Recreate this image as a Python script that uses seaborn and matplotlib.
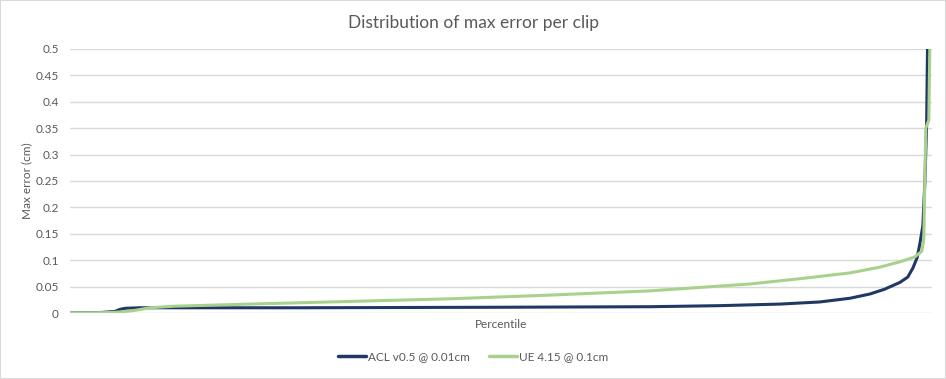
import pandas as pd
import matplotlib
matplotlib.use("Agg")
from matplotlib import pyplot as plt
import seaborn as sns

# percentile (0-100) vs max error (cm)
acl_pct = [0, 3.5, 5.2, 5.8, 6.4, 8.1, 26.7, 49.9, 67.3, 75.4, 82.4, 87.0, 90.5,
           92.8, 94.5, 96.3, 97.2, 97.8, 98.3, 98.6, 98.96, 99.2, 99.4, 99.5, 99.65]
acl_err = [0, 0.001, 0.003, 0.007, 0.009, 0.010, 0.010, 0.011, 0.012, 0.014, 0.017,
           0.021, 0.028, 0.036, 0.045, 0.058, 0.068, 0.085, 0.105, 0.13, 0.165,
           0.25, 0.36, 0.5, 0.6]

ue_pct = [0, 4.6, 5.8, 7.5, 9.3, 12.2, 20.9, 32.5, 44.1, 55.7, 67.3, 78.9, 84.7,
          90.5, 94.0, 96.3, 98.0, 98.84, 99.07, 99.19, 99.3, 99.65, 99.77, 99.88]
ue_err = [0, 0.001, 0.002, 0.005, 0.010, 0.013, 0.017, 0.022, 0.027, 0.034, 0.042,
          0.055, 0.065, 0.076, 0.087, 0.097, 0.106, 0.117, 0.14, 0.25, 0.35, 0.365,
          0.5, 0.6]

series_names = ["ACL v0.5 @ 0.01cm", "UE 4.15 @ 0.1cm"]
y_ticks = [0, 0.05, 0.1, 0.15, 0.2, 0.25, 0.3, 0.35, 0.4, 0.45, 0.5]

df = pd.concat([
    pd.DataFrame({"pct": acl_pct, "err": acl_err, "series": series_names[0]}),
    pd.DataFrame({"pct": ue_pct, "err": ue_err, "series": series_names[1]}),
])

sns.set_style("white")
plt.rcParams["font.family"] = ["Lato", "DejaVu Sans"]
txt = "#595959"
grid = "#D9D9D9"

fig = plt.figure(figsize=(9.46, 3.79), dpi=100)
ax = fig.add_axes([0.074, 0.174, 0.911, 0.697])

sns.lineplot(data=df, x="pct", y="err", hue="series", sort=False,
             palette=["#203864", "#A9D18E"], linewidth=2.2, ax=ax, legend=False)

ax.set_xlim(0, 100)
ax.set_ylim(0, 0.5)
ax.set_yticks(y_ticks)
ax.set_yticklabels([f"{v:g}" for v in y_ticks], color=txt, fontsize=8.5)
ax.set_xticks([])
ax.yaxis.grid(True, color=grid, linewidth=1)
ax.set_axisbelow(True)
for s in ax.spines.values():
    s.set_visible(False)
ax.tick_params(axis="y", length=0, pad=8)

ax.set_xlabel("Percentile", color=txt, fontsize=8.5, labelpad=4)
ax.set_ylabel("Max error (cm)", color=txt, fontsize=8.5, labelpad=2)
fig.suptitle("Distribution of max error per clip", color=txt, fontsize=12.5, y=0.96)

handles = [plt.Line2D([], [], color=c, linewidth=2.5) for c in ["#203864", "#A9D18E"]]
fig.legend(handles, series_names, loc="center", bbox_to_anchor=(0.5, 0.058), ncol=2,
           frameon=False, fontsize=8.5, labelcolor=txt, handlelength=2.4,
           handletextpad=0.15, columnspacing=1.6)

fig.patches.append(plt.Rectangle((0, 0), 1, 1, transform=fig.transFigure, fill=False,
                                 edgecolor=grid, linewidth=1.5))

fig.savefig("out.png", dpi=100)
